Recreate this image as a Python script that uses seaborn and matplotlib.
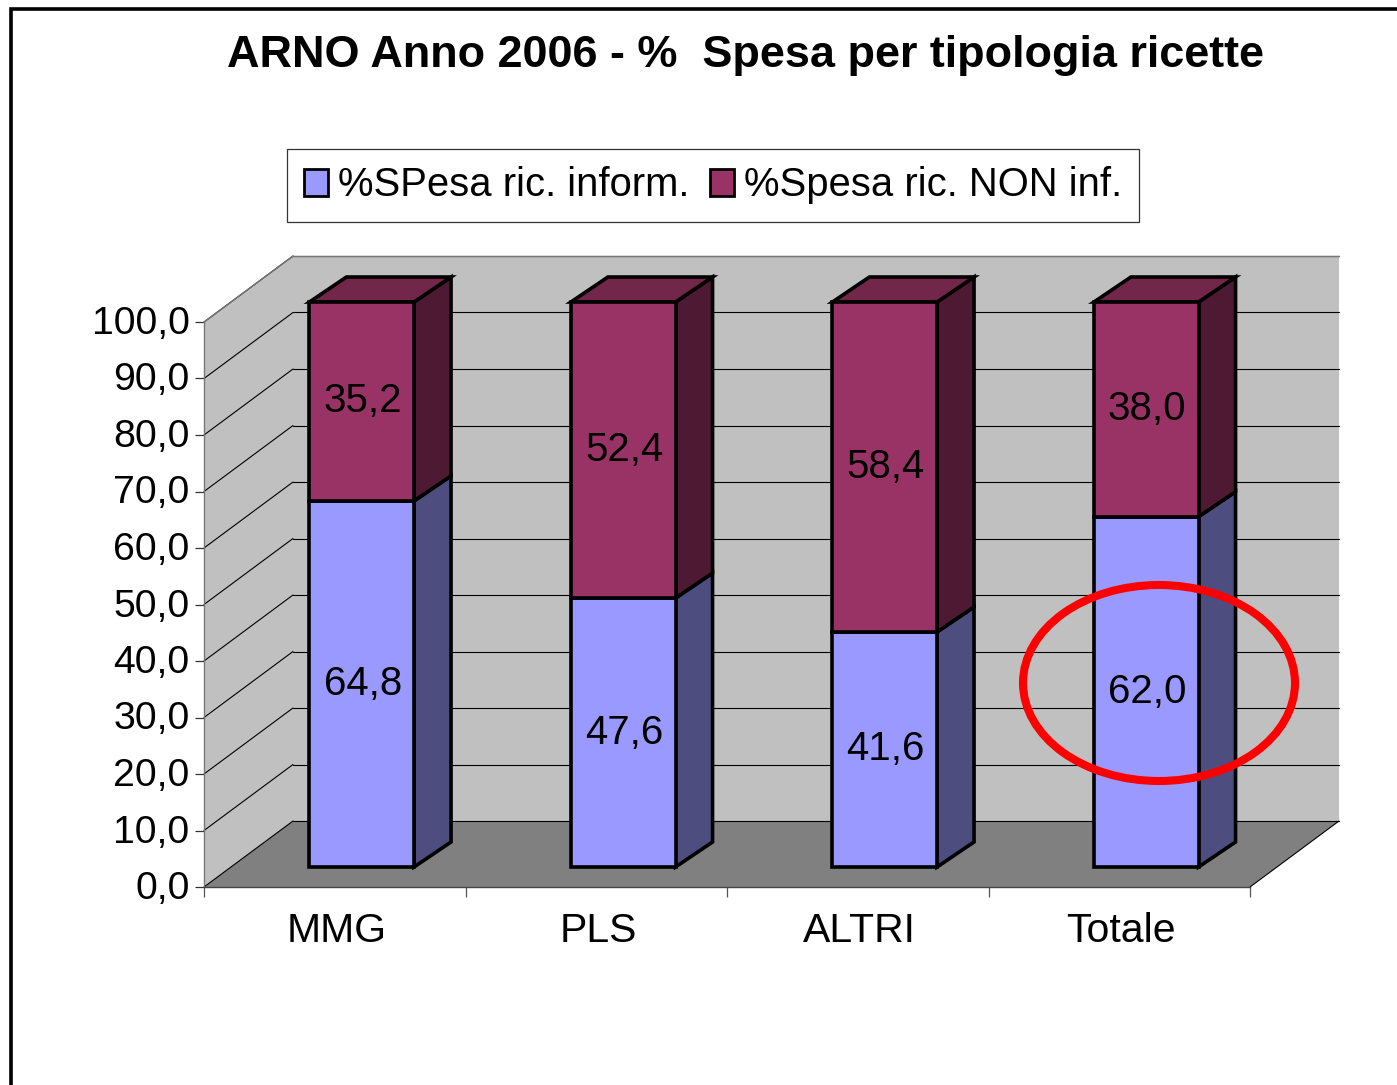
import matplotlib
matplotlib.use("Agg")
import matplotlib.pyplot as plt
import seaborn as sns
from matplotlib.lines import Line2D
from matplotlib.patches import Ellipse, Polygon
from matplotlib.transforms import Affine2D, IdentityTransform

# DATA
categories = ["MMG", "PLS", "ALTRI", "Totale"]
spesa_inform = [64.8, 47.6, 41.6, 62.0]
spesa_non_inf = [35.2, 52.4, 58.4, 38.0]
y_ticks = [0, 10, 20, 30, 40, 50, 60, 70, 80, 90, 100]
series_names = ["%SPesa ric. inform.", "%Spesa ric. NON inf."]
title = "ARNO Anno 2006 - %  Spesa per tipologia ricette"

W, H = 1397, 1085
WALL = (89, 66)      # depth of the chart box, px
BAR_SHIFT = (27, 20)  # bars stand inside the box, px
BAR_DEPTH = (37, 25)

BLUE, BLUE_SIDE = "#9999ff", "#4d4d80"
RED, RED_SIDE, RED_TOP = "#993366", "#4d1933", "#72264a"
EDGE = 2.6


def fx(x):
    return x / W


def fy(y):
    return 1 - y / H


def poly(ax, pts, color, z, lw=0.0, ec="black"):
    # pts are display pixels, y going up
    ax.add_patch(Polygon(pts, closed=True, facecolor=color, edgecolor=ec, linewidth=lw,
                         transform=IdentityTransform(), clip_on=False, zorder=z, joinstyle="miter"))


def line(ax, p0, p1, color="black", lw=0.8, z=1.5):
    ax.add_line(Line2D([p0[0], p1[0]], [p0[1], p1[1]], color=color, linewidth=lw,
                       transform=IdentityTransform(), clip_on=False, zorder=z))


if __name__ == "__main__":
    sns.set_theme(style="white", rc={"axes.facecolor": (0, 0, 0, 0), "figure.facecolor": "white"})
    plt.rcParams["font.family"] = ["Liberation Sans", "DejaVu Sans"]

    fig = plt.figure(figsize=(W / 100, H / 100), dpi=100)
    ax = fig.add_axes([fx(204), fy(887), 1046 / W, 565 / H])

    # front faces through seaborn
    sns.barplot(x=categories, y=spesa_inform, color=BLUE, saturation=1, width=0.4, ax=ax,
                edgecolor="black", linewidth=EDGE, label=series_names[0], zorder=5)
    sns.barplot(x=categories, y=spesa_non_inf, bottom=spesa_inform, color=RED, saturation=1, width=0.4, ax=ax,
                edgecolor="black", linewidth=EDGE, label=series_names[1], zorder=5)
    ax.set_xlim(-0.5, 3.5)
    ax.set_ylim(0, 100)

    to_px = ax.transData.transform
    x0, y0 = to_px((-0.5, 0))
    x1, y1 = to_px((3.5, 100))
    wx, wy = WALL

    # chart box: back wall, side wall, floor
    poly(ax, [(x0 + wx, y0 + wy), (x1 + wx, y0 + wy), (x1 + wx, y1 + wy), (x0 + wx, y1 + wy)], "#c0c0c0", 1)
    poly(ax, [(x0, y0), (x0 + wx, y0 + wy), (x0 + wx, y1 + wy), (x0, y1)], "#c0c0c0", 1)
    poly(ax, [(x0, y0), (x1, y0), (x1 + wx, y0 + wy), (x0 + wx, y0 + wy)], "#808080", 2)

    for t in y_ticks:
        py = to_px((0, t))[1]
        if t > 0:
            line(ax, (x0, py), (x0 + wx, py + wy))
            line(ax, (x0 + wx, py + wy), (x1 + wx, py + wy))
    line(ax, (x0, y0), (x0 + wx, y0 + wy), z=2.5)
    line(ax, (x0 + wx, y0 + wy), (x1 + wx, y0 + wy), z=2.5)
    line(ax, (x1, y0), (x1 + wx, y0 + wy), z=2.5)
    line(ax, (x0 + wx, y1 + wy), (x1 + wx, y1 + wy), color="#777777", lw=1.0)
    line(ax, (x0, y1), (x0 + wx, y1 + wy), color="#777777", lw=1.0)

    # shift the bars back and add the 3D faces
    sx, sy = BAR_SHIFT
    dx, dy = BAR_DEPTH
    shift = ax.transData + Affine2D().translate(sx, sy)
    for cont, side in zip(ax.containers, [BLUE_SIDE, RED_SIDE]):
        for bar in cont:
            bar.set_transform(shift)
            bar.set_clip_on(False)
            bar.set_joinstyle("miter")
            xr = bar.get_x() + bar.get_width()
            xa, ya = to_px((bar.get_x(), bar.get_y()))
            xb, yb = to_px((xr, bar.get_y() + bar.get_height()))
            xa, xb, ya, yb = xa + sx, xb + sx, ya + sy, yb + sy
            poly(ax, [(xb, ya), (xb + dx, ya + dy), (xb + dx, yb + dy), (xb, yb)], side, 4, lw=EDGE)
            if side == RED_SIDE:
                poly(ax, [(xa, yb), (xb, yb), (xb + dx, yb + dy), (xa + dx, yb + dy)], RED_TOP, 4, lw=EDGE)

    # value labels
    for i in range(len(categories)):
        for base, val in [(0, spesa_inform[i]), (spesa_inform[i], spesa_non_inf[i])]:
            ax.text(i, base + val / 2, f"{val:.1f}".replace(".", ","), transform=shift + Affine2D().translate(1, 0),
                    ha="center", va="center", fontsize=29, color="black", zorder=7)

    # axes
    ax.set_yticks(y_ticks)
    ax.set_yticklabels([f"{t:.1f}".replace(".", ",") for t in y_ticks], fontsize=28.3, color="black")
    ax.set_xticks([-0.5, 0.5, 1.5, 2.5, 3.5])
    ax.set_xticklabels([])
    ax.set_xticks([0, 1, 2, 3], minor=True)
    ax.set_xticklabels(categories, minor=True, fontsize=29.5, color="black")
    ax.tick_params(axis="y", left=True, length=6.5, width=0.9, color="#333333", pad=4)
    ax.tick_params(axis="x", which="major", bottom=True, length=7, width=0.9, color="#555555")
    ax.tick_params(axis="x", which="minor", bottom=False, length=0, pad=18)
    for lab in ax.get_yticklabels():
        lab.set_transform(lab.get_transform() + Affine2D().translate(0, 2))
    for lab in ax.get_xticklabels(minor=True):
        lab.set_transform(lab.get_transform() + Affine2D().translate(2, 0))
    for s in ["top", "right"]:
        ax.spines[s].set_visible(False)
    ax.spines["left"].set_color("#777777")
    ax.spines["bottom"].set_color("#444444")
    ax.spines["left"].set_linewidth(1.0)
    ax.spines["bottom"].set_linewidth(1.0)
    ax.spines["left"].set_zorder(3)
    ax.spines["bottom"].set_zorder(3)
    ax.set_xlabel("")
    ax.set_ylabel("")

    # legend
    handles, labels = ax.get_legend_handles_labels()
    leg = ax.legend(handles, labels, ncol=2, loc="center", bbox_to_anchor=(fx(713), fy(185.5)),
                    bbox_transform=fig.transFigure, fontsize=28.8, frameon=True, fancybox=False,
                    facecolor="white", edgecolor="#333333", framealpha=1, borderaxespad=0,
                    handlelength=0.6, handleheight=0.65, handletextpad=0.25, columnspacing=0.5,
                    borderpad=0.44, labelcolor="black")
    leg.get_frame().set_linewidth(0.9)
    leg.set_zorder(8)
    for h in leg.legend_handles:
        h.set_edgecolor("black")
        h.set_linewidth(2.0)
        h.set_joinstyle("miter")

    # annotation ring around the total
    ax.add_patch(Ellipse((1159, H - 683), 272, 196, fill=False, edgecolor="#ff0000", linewidth=5.8,
                         transform=IdentityTransform(), clip_on=False, zorder=9))

    # title and outer frame
    fig.text(fx(746), fy(55), title, fontsize=32.4, fontweight="bold", ha="center", va="center", color="black")
    fig.add_artist(Line2D([fx(11), fx(11), fx(W)], [fy(H), fy(9), fy(9)], color="black", linewidth=2.6,
                          transform=fig.transFigure, solid_joinstyle="miter"))

    fig.savefig("out.png", dpi=100)
